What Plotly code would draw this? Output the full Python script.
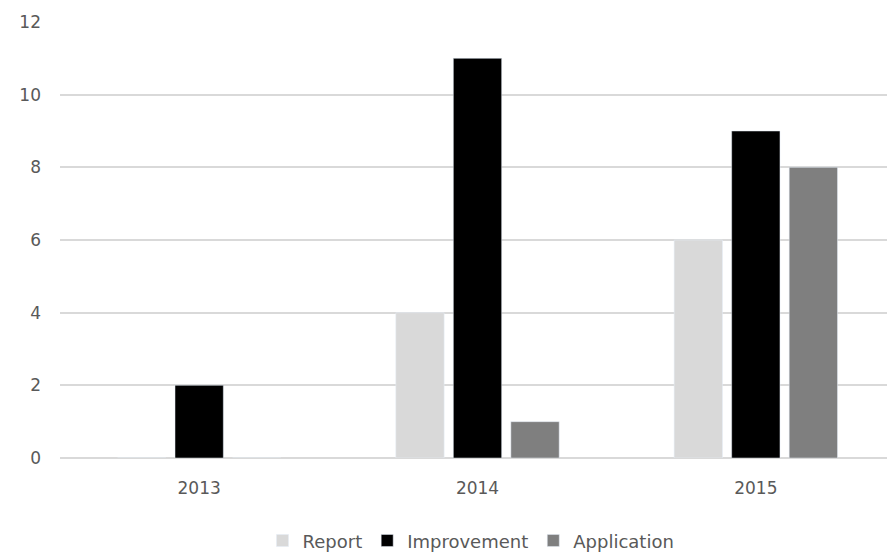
import plotly.graph_objects as go

years = ["2013", "2014", "2015"]
report = [0, 4, 6]
improvement = [2, 11, 9]
application = [0, 1, 8]

fig = go.Figure()
fig.add_trace(go.Bar(name="Report", x=years, y=report, marker_color="#d9d9d9"))
fig.add_trace(go.Bar(name="Improvement", x=years, y=improvement, marker_color="#000000"))
fig.add_trace(go.Bar(name="Application", x=years, y=application, marker_color="#7f7f7f"))

fig.update_layout(
    width=887, height=547,
    margin=dict(l=52, r=0, t=14, b=97, autoexpand=False),
    paper_bgcolor="white", plot_bgcolor="white",
    barmode="group", bargap=0.38, bargroupgap=0.16,
    font=dict(family="DejaVu Sans, sans-serif", size=17, color="#595959"),
    showlegend=True,
    legend=dict(orientation="h", xref="container", x=0.522, xanchor="center",
                yref="container", y=0.026, yanchor="middle",
                font=dict(size=18, color="#595959"), itemwidth=30,
                traceorder="normal"),
    xaxis=dict(showgrid=False, showline=False, ticks="", ticklabelstandoff=18, automargin=False),
    yaxis=dict(range=[0, 12], dtick=2, showgrid=True, gridcolor="#d9d9d9", gridwidth=1.5,
               zeroline=True, zerolinecolor="#d9d9d9", zerolinewidth=1.5,
               showline=False, ticks="", ticklabelstandoff=18, automargin=False),
)

fig.write_html("out.html")
